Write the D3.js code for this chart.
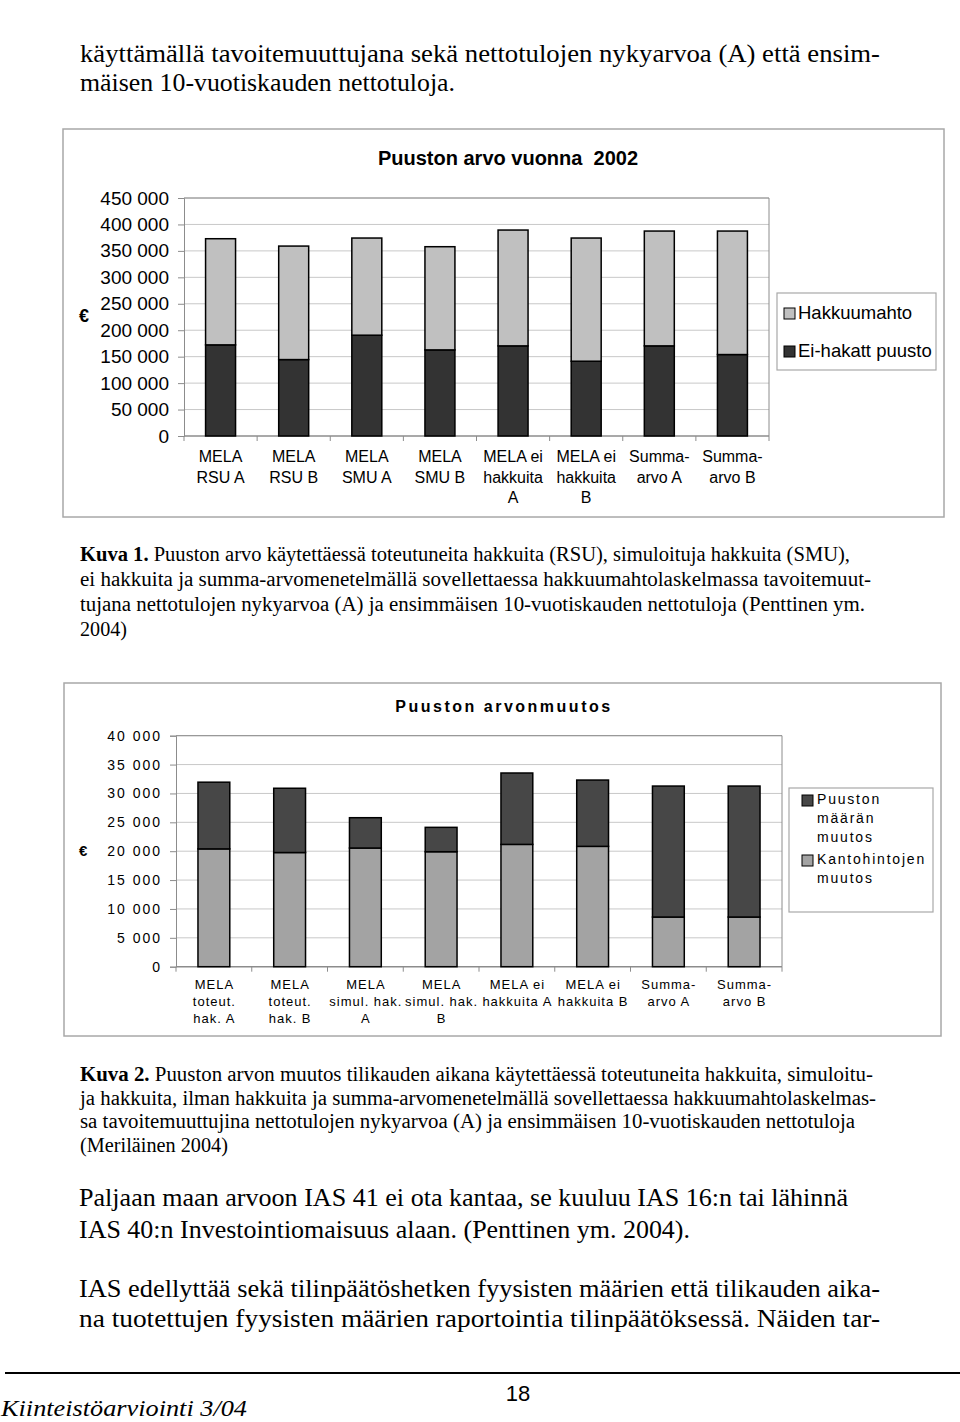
<!DOCTYPE html>
<html>
<head>
<meta charset="utf-8">
<script src="https://cdn.jsdelivr.net/npm/d3@7"></script>
<style>
  html, body { margin: 0; padding: 0; background: #fff; }
  svg { display: block; }
  text { white-space: pre; }
</style>
</head>
<body>
<div id="chart"></div>
<script>
// ---------- DATA ----------
const categories1 = ["MELA\nRSU A", "MELA\nRSU B", "MELA\nSMU A", "MELA\nSMU B",
  "MELA ei\nhakkuita\nA", "MELA ei\nhakkuita\nB", "Summa-\narvo A", "Summa-\narvo B"];
const eiHakattPuusto = [172300, 144500, 190600, 162800, 170400, 141400, 170400, 154000];
const hakkuumahto    = [200700, 214600, 183700, 195100, 219000, 232900, 217100, 233500];
const yTicks1 = [0, 50000, 100000, 150000, 200000, 250000, 300000, 350000, 400000, 450000];
const seriesNames1 = ["Hakkuumahto", "Ei-hakatt puusto"];

const categories2 = ["MELA\ntoteut.\nhak. A", "MELA\ntoteut.\nhak. B", "MELA\nsimul. hak.\nA", "MELA\nsimul. hak.\nB",
  "MELA ei\nhakkuita A", "MELA ei\nhakkuita B", "Summa-\narvo A", "Summa-\narvo B"];
const kantohintojenMuutos = [20400, 19770, 20550, 19910, 21180, 20840, 8600, 8600];
const puustonMaaranMuutos = [11550, 11130, 5250, 4220, 12360, 11480, 22680, 22680];
const yTicks2 = [0, 5000, 10000, 15000, 20000, 25000, 30000, 35000, 40000];
const seriesNames2 = ["Puuston\nmäärän\nmuutos", "Kantohintojen\nmuutos"];

// ---------- SETUP ----------
const W = 960, H = 1422;
const svg = d3.select("#chart").append("svg").attr("width", W).attr("height", H);
const loc = d3.formatLocale({decimal: ",", thousands: " ", grouping: [3], currency: ["", "€"]});
const fmt = loc.format(",");
const SANS = "'Liberation Sans', Arial, sans-serif";
const SERIF = "'Times New Roman', 'Liberation Serif', Tinos, serif";

// ---------- BODY TEXT ----------
function textLine(str, x0, x1, y, size, opts = {}) {
  const t = svg.append("text").attr("x", x0).attr("y", y)
    .style("font-family", SERIF).attr("font-size", size).attr("fill", "#000");
  if (opts.italic) t.attr("font-style", "italic");
  if (opts.bold) {
    t.append("tspan").attr("font-weight", "bold").text(opts.bold);
    t.append("tspan").text(str);
  } else t.text(str);
  if (x1 != null) t.attr("textLength", x1 - x0).attr("lengthAdjust", "spacingAndGlyphs");
  return t;
}
textLine("käyttämällä tavoitemuuttujana sekä nettotulojen nykyarvoa (A) että ensim-", 80, 880, 62, 25);
textLine("mäisen 10-vuotiskauden nettotuloja.", 80, 455, 91, 25);

textLine(" Puuston arvo käytettäessä toteutuneita hakkuita (RSU), simuloituja hakkuita (SMU),", 80, 850, 561, 20, {bold: "Kuva 1."});
textLine("ei hakkuita ja summa-arvomenetelmällä sovellettaessa hakkuumahtolaskelmassa tavoitemuut-", 80, 871, 586, 20);
textLine("tujana nettotulojen nykyarvoa (A) ja ensimmäisen 10-vuotiskauden nettotuloja (Penttinen ym.", 80, 865, 611, 20);
textLine("2004)", 80, 127, 636, 20);

textLine(" Puuston arvon muutos tilikauden aikana käytettäessä toteutuneita hakkuita, simuloitu-", 80, 873, 1081, 20, {bold: "Kuva 2."});
textLine("ja hakkuita, ilman hakkuita ja summa-arvomenetelmällä sovellettaessa hakkuumahtolaskelmas-", 80, 876, 1105, 20);
textLine("sa tavoitemuuttujina nettotulojen nykyarvoa (A) ja ensimmäisen 10-vuotiskauden nettotuloja", 80, 855, 1128, 20);
textLine("(Meriläinen 2004)", 80, 228, 1152, 20);

textLine("Paljaan maan arvoon IAS 41 ei ota kantaa, se kuuluu IAS 16:n tai lähinnä", 79, 848, 1206, 25);
textLine("IAS 40:n Investointiomaisuus alaan. (Penttinen ym. 2004).", 79, 690, 1238, 25);
textLine("IAS edellyttää sekä tilinpäätöshetken fyysisten määrien että tilikauden aika-", 79, 880, 1297, 25);
textLine("na tuotettujen fyysisten määrien raportointia tilinpäätöksessä. Näiden tar-", 79, 880, 1327, 25);

// footer
svg.append("line").attr("x1", 5).attr("x2", 960).attr("y1", 1373).attr("y2", 1373)
  .attr("stroke", "#000").attr("stroke-width", 2);
svg.append("text").attr("x", 518).attr("y", 1401).attr("text-anchor", "middle")
  .attr("font-family", SANS).attr("font-size", 22).text("18");
textLine("Kiinteistöarviointi 3/04", 1, 247, 1416, 24, {italic: true});

// ---------- CHART BUILDER ----------
function drawChart(cfg) {
  const g = svg.append("g");
  g.append("rect").attr("x", cfg.box[0]).attr("y", cfg.box[1])
    .attr("width", cfg.box[2] - cfg.box[0]).attr("height", cfg.box[3] - cfg.box[1])
    .attr("fill", "none").attr("stroke", "#a8a8a8").attr("stroke-width", 1.5);

  const y = d3.scaleLinear().domain([0, cfg.yMax]).range([cfg.plot.bottom, cfg.plot.top]);
  const x = d3.scaleBand().domain(d3.range(cfg.categories.length))
    .range([cfg.plot.left, cfg.plot.right]).paddingInner(cfg.pin).paddingOuter(cfg.pin / 2);
  const xb = d3.scaleLinear().domain([0, cfg.categories.length]).range([cfg.plot.left, cfg.plot.right]);

  g.append("g").selectAll("line").data(cfg.ticks.slice(1)).join("line")
    .attr("x1", cfg.plot.left).attr("x2", cfg.plot.right)
    .attr("y1", d => y(d)).attr("y2", d => y(d))
    .attr("stroke", "#c8c8c8").attr("stroke-width", 1);
  g.append("path").attr("d", `M${cfg.plot.left},${cfg.plot.top}H${cfg.plot.right}V${cfg.plot.bottom}`)
    .attr("fill", "none").attr("stroke", "#8c8c8c").attr("stroke-width", 1);

  const ya = g.append("g").attr("transform", `translate(${cfg.plot.left},0)`)
    .call(d3.axisLeft(y).tickValues(cfg.ticks).tickFormat(fmt).tickSize(6).tickPadding(cfg.tickPad));
  ya.select(".domain").attr("stroke", "#8c8c8c");
  ya.selectAll(".tick line").attr("stroke", "#8c8c8c");
  ya.selectAll(".tick text").attr("font-family", SANS).attr("font-size", cfg.yFont)
    .attr("fill", "#000").attr("letter-spacing", cfg.yLs).attr("dx", cfg.yLs);

  g.append("line").attr("x1", cfg.plot.left).attr("x2", cfg.plot.right)
    .attr("y1", cfg.plot.bottom).attr("y2", cfg.plot.bottom)
    .attr("stroke", "#8c8c8c").attr("stroke-width", 1.5);
  g.append("g").selectAll("line").data(d3.range(cfg.categories.length + 1)).join("line")
    .attr("x1", d => xb(d)).attr("x2", d => xb(d))
    .attr("y1", cfg.plot.bottom).attr("y2", cfg.plot.bottom + 5)
    .attr("stroke", "#8c8c8c");

  const rows = cfg.categories.map((c, i) => ({i, a: cfg.bottomSeries[i], b: cfg.topSeries[i]}));
  const stack = d3.stack().keys(["a", "b"])(rows);
  const colors = [cfg.bottomColor, cfg.topColor];
  stack.forEach((layer, li) => {
    g.append("g").selectAll("rect").data(layer).join("rect")
      .attr("x", d => x(d.data.i)).attr("width", x.bandwidth())
      .attr("y", d => y(d[1])).attr("height", d => y(d[0]) - y(d[1]))
      .attr("fill", colors[li]).attr("stroke", "#000").attr("stroke-width", 1.5);
  });

  const lab = g.append("g").selectAll("text").data(cfg.categories).join("text")
    .attr("font-family", SANS).attr("font-size", cfg.xFont).attr("text-anchor", "middle")
    .attr("letter-spacing", cfg.xLs).attr("fill", "#000");
  lab.each(function (d, i) {
    const t = d3.select(this);
    d.split("\n").forEach((s, k) => {
      t.append("tspan").attr("x", x(i) + x.bandwidth() / 2 + cfg.xLs / 2)
        .attr("y", cfg.xLabelY + k * cfg.xLineH).text(s);
    });
  });

  g.append("text").attr("x", cfg.euro[0]).attr("y", cfg.euro[1]).attr("font-family", SANS)
    .attr("font-size", cfg.euroSize).attr("font-weight", "bold").text("€");

  g.append("text").attr("x", cfg.titleX).attr("y", cfg.titleY).attr("text-anchor", "middle")
    .attr("font-family", SANS).attr("font-size", cfg.titleSize).attr("font-weight", "bold")
    .attr("letter-spacing", cfg.titleLs).text(cfg.title);

  const L = cfg.legend;
  g.append("rect").attr("x", L.box[0]).attr("y", L.box[1])
    .attr("width", L.box[2] - L.box[0]).attr("height", L.box[3] - L.box[1])
    .attr("fill", "#fff").attr("stroke", "#a8a8a8").attr("stroke-width", 1.2);
  L.items.forEach(it => {
    g.append("rect").attr("x", L.swX).attr("y", it.swY).attr("width", L.sw).attr("height", L.sw)
      .attr("fill", it.color).attr("stroke", "#000").attr("stroke-width", 1);
    const t = g.append("text").attr("font-family", SANS).attr("font-size", L.font)
      .attr("letter-spacing", L.ls).attr("fill", "#000");
    it.name.split("\n").forEach((s, k) => {
      t.append("tspan").attr("x", L.textX).attr("y", it.baseY + k * L.lineH).text(s);
    });
  });
}

drawChart({
  box: [63, 129, 944, 517],
  plot: {left: 184, right: 769, top: 198, bottom: 436},
  yMax: 450000, ticks: yTicks1, tickPad: 9, yFont: 19, yLs: 0,
  categories: categories1, pin: 0.59,
  bottomSeries: eiHakattPuusto, topSeries: hakkuumahto,
  bottomColor: "#333333", topColor: "#c0c0c0",
  xFont: 16, xLs: 0, xLabelY: 462, xLineH: 20.5,
  euro: [79, 322], euroSize: 18,
  title: "Puuston arvo vuonna  2002", titleX: 508, titleY: 165, titleSize: 20, titleLs: 0,
  legend: {
    box: [777, 293, 936, 370], swX: 784, sw: 11, textX: 798, font: 18.5, ls: 0, lineH: 20,
    items: [
      {name: seriesNames1[0], color: "#c0c0c0", swY: 308, baseY: 319},
      {name: seriesNames1[1], color: "#333333", swY: 346, baseY: 357}
    ]
  }
});

drawChart({
  box: [64, 683, 941, 1036],
  plot: {left: 176, right: 782, top: 735.7, bottom: 966.7},
  yMax: 40000, ticks: yTicks2, tickPad: 10, yFont: 14, yLs: 2,
  categories: categories2, pin: 0.58,
  bottomSeries: kantohintojenMuutos, topSeries: puustonMaaranMuutos,
  bottomColor: "#a3a3a3", topColor: "#474747",
  xFont: 13, xLs: 1, xLabelY: 989, xLineH: 17,
  euro: [79, 856], euroSize: 15,
  title: "Puuston arvonmuutos", titleX: 504, titleY: 712, titleSize: 16, titleLs: 2.5,
  legend: {
    box: [789, 788, 933, 912], swX: 802, sw: 11, textX: 817, font: 14, ls: 1.8, lineH: 19,
    items: [
      {name: seriesNames2[0], color: "#474747", swY: 795, baseY: 804},
      {name: seriesNames2[1], color: "#a3a3a3", swY: 855, baseY: 864}
    ]
  }
});
</script>
</body>
</html>
